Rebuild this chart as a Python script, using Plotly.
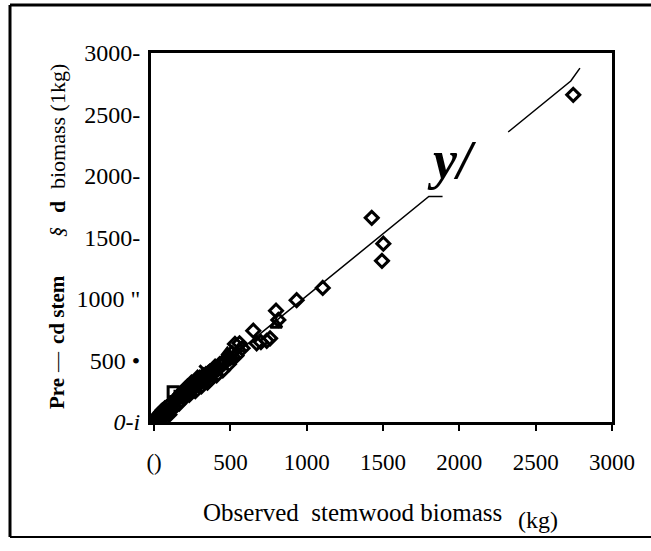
import plotly.graph_objects as go

# Observed vs predicted stemwood biomass (kg)
diamond_x = [10, 15, 20, 25, 30, 35, 40, 45, 50, 55, 60, 65, 70, 75, 80, 90, 95, 100, 105, 110,
             115, 130, 135, 140, 150, 155, 160, 165, 175, 180, 185, 190, 200, 205, 210, 220,
             225, 230, 240, 245, 250, 260, 265, 270, 280, 285, 290, 300, 305, 310, 320, 325,
             330, 340, 345, 350, 360, 365, 370, 380, 390, 400, 405, 410, 420, 430, 440, 450,
             460, 470, 480, 490, 500, 510, 520, 540, 530, 560, 580, 650, 672, 700, 738, 760,
             799, 814, 934, 1105, 1426, 1493, 1502, 2746]
diamond_y = [20, 35, 10, 45, 60, 25, 30, 80, 50, 95, 90, 40, 110, 75, 70, 130, 95, 60, 140, 150,
             105, 120, 180, 170, 140, 200, 200, 150, 230, 175, 240, 250, 200, 270, 240, 290,
             250, 220, 280, 320, 260, 320, 290, 250, 330, 360, 300, 360, 330, 290, 350, 380,
             330, 390, 360, 320, 380, 410, 350, 420, 400, 450, 420, 380, 430, 470, 470, 420,
             480, 490, 520, 470, 520, 560, 525, 540, 635, 640, 600, 742, 640, 650, 660, 680,
             905, 830, 990, 1090, 1660, 1310, 1450, 2660]
square_x = [125, 170]
square_y = [245, 210]
triangle_x = [480, 560, 800]
triangle_y = [560, 600, 790]
cross_x = [330, 250]
cross_y = [420, 300]

# fitted line (drawn in two pieces as in the scan)
fit_x = [0, 1800, 1890, None, 2320, 2730, 2790]
fit_y = [15, 1833, 1833, None, 2358, 2772, 2877]

x_ticks = [0, 500, 1000, 1500, 2000, 2500, 3000]
x_ticktext = ["()", "500", "1000", "1500", "2000", "2500", "3000"]
y_ticks = [0, 500, 1000, 1500, 2000, 2500, 3000]
y_ticktext = ["<i>0-i</i>", "500 •", "1000 \"", "1500-", "2000-", "2500-", "3000-"]

FONT = "Liberation Serif, Times New Roman, serif"

fig = go.Figure()
fig.add_trace(go.Scatter(x=fit_x, y=fit_y, mode="lines",
                         line=dict(color="black", width=1.5), showlegend=False))
mk = dict(color="black", size=10, line=dict(color="black", width=3))
fig.add_trace(go.Scatter(x=diamond_x, y=diamond_y, mode="markers",
                         marker=dict(symbol="diamond-open", **mk), showlegend=False))
fig.add_trace(go.Scatter(x=square_x, y=square_y, mode="markers",
                         marker=dict(symbol="square-open", **mk), showlegend=False))
fig.add_trace(go.Scatter(x=triangle_x, y=triangle_y, mode="markers",
                         marker=dict(symbol="triangle-up-open", **mk), showlegend=False))
fig.add_trace(go.Scatter(x=cross_x, y=cross_y, mode="markers",
                         marker=dict(symbol="x-thin-open", **mk), showlegend=False))

fig.update_layout(
    width=651, height=551,
    margin=dict(l=151, r=39, t=53, b=129),
    paper_bgcolor="white", plot_bgcolor="white",
    font=dict(family=FONT, color="black", size=22),
    xaxis=dict(range=[-20, 3000], tickvals=x_ticks, ticktext=x_ticktext,
               showgrid=False, zeroline=False, showline=True, linecolor="black",
               linewidth=3, mirror=True, ticks="outside", ticklen=6, tickwidth=2,
               tickcolor="black", ticklabelstandoff=11,
               tickfont=dict(family=FONT, size=23)),
    yaxis=dict(range=[0, 3000], tickvals=y_ticks, ticktext=y_ticktext,
               showgrid=False, zeroline=False, showline=True, linecolor="black",
               linewidth=3, mirror=True, ticks="", ticklabelstandoff=3,
               tickfont=dict(family=FONT, size=24)),
)

def px2paper_x(px):
    return (px - 151) / 461.0

def px2paper_y(py):
    return (422 - py) / 369.0

def rot(py, text, size):
    return dict(x=px2paper_x(57), y=px2paper_y(py), xref="paper", yref="paper",
                xanchor="center", yanchor="middle", textangle=-90, text=text,
                showarrow=False, font=dict(family=FONT, size=size))

annotations = [
    dict(x=px2paper_x(452), y=px2paper_y(160), xref="paper", yref="paper",
         xanchor="center", yanchor="middle", text="<b><i>y/</i></b>", showarrow=False,
         font=dict(family=FONT, size=54)),
    dict(x=px2paper_x(201), y=px2paper_y(512), xref="paper", yref="paper",
         xanchor="left", yanchor="middle", text="Observed  stemwood biomass",
         showarrow=False, font=dict(family=FONT, size=25)),
    dict(x=px2paper_x(516), y=px2paper_y(520), xref="paper", yref="paper",
         xanchor="left", yanchor="middle", text="(kg)",
         showarrow=False, font=dict(family=FONT, size=24)),
    rot(394, "<b>Pre</b>", 21),
    rot(362, "—", 20),
    rot(310, "<b>cd stem</b>", 21),
    rot(232, "<i>§</i>", 20),
    rot(207, "<b>d</b>", 22),
    rot(127, "biomass (1kg)", 22),
]
fig.update_layout(annotations=annotations)

# outer frame of the scanned figure (open on the right)
L, T, B, R = px2paper_x(10), px2paper_y(5), px2paper_y(537), px2paper_x(660)
frame = [
    dict(type="line", xref="paper", yref="paper", x0=L, x1=R, y0=T, y1=T,
         line=dict(color="black", width=3)),
    dict(type="line", xref="paper", yref="paper", x0=L, x1=L, y0=T, y1=B,
         line=dict(color="black", width=3)),
    dict(type="line", xref="paper", yref="paper", x0=L, x1=R, y0=B, y1=B,
         line=dict(color="black", width=2)),
]
fig.update_layout(shapes=frame)

fig.write_html("out.html", config={"displayModeBar": False},
               post_script="document.body.style.margin='0px';")
